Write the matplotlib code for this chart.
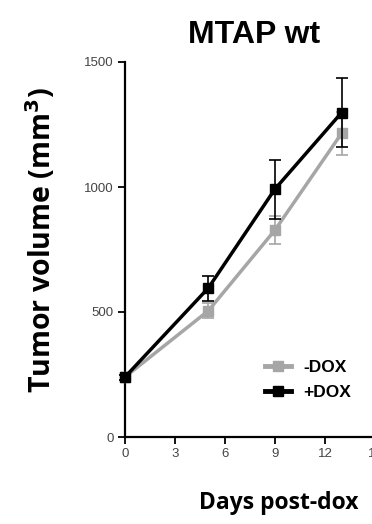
import matplotlib.pyplot as plt
from matplotlib.lines import Line2D

days = [0, 5, 9, 13]
minus_dox = [240, 505, 828, 1215]
minus_err = [10, 30, 55, 85]
plus_dox = [240, 596, 992, 1298]
plus_err = [10, 50, 118, 138]

x_ticks = [0, 3, 6, 9, 12, 15]
y_ticks = [0, 500, 1000, 1500]

fig = plt.figure(figsize=(3.72, 5.24), dpi=100)
ax = fig.add_axes([125 / 372, 87 / 524, 250 / 372, 375 / 524])

ax.errorbar(days, minus_dox, yerr=minus_err, color='#a6a6a6', lw=2.5,
            marker='s', ms=6.5, capsize=4, elinewidth=1.2, capthick=1.2,
            clip_on=False, zorder=3)
ax.errorbar(days, plus_dox, yerr=plus_err, color='black', lw=2.5,
            marker='s', ms=6.5, capsize=4, elinewidth=1.2, capthick=1.2,
            clip_on=False, zorder=4)

ax.set_xlim(0, 15)
ax.set_ylim(0, 1500)
ax.set_xticks(x_ticks)
ax.set_yticks(y_ticks)
ax.tick_params(labelsize=9.5, labelcolor='#444444', length=5, width=1.3,
               direction='out', pad=3)
for lab in ax.get_xticklabels() + ax.get_yticklabels():
    lab.set_family('Liberation Sans')
ax.spines['top'].set_visible(False)
ax.spines['right'].set_visible(False)
ax.spines['left'].set_linewidth(1.6)
ax.spines['bottom'].set_linewidth(1.6)

# legend handles without error bars
handles = [Line2D([], [], color='#a6a6a6', lw=3.5, marker='s', ms=6.5),
           Line2D([], [], color='black', lw=3.5, marker='s', ms=6.5)]
ax.legend(handles, ['-DOX', '+DOX'], loc='lower right',
          bbox_to_anchor=(0.94, 0.075), frameon=False, borderpad=0,
          handlelength=1.5, handletextpad=0.7, labelspacing=0.6,
          prop={'family': 'Liberation Sans', 'weight': 'bold', 'size': 12.5})

fig.text(0.683, 0.933, 'MTAP wt', ha='center', va='center', fontsize=23,
         fontweight='bold', family='Liberation Sans')
fig.text(0.11, 0.542, 'Tumor volume (mm$^\\mathbf{3}$)', ha='center', va='center',
         rotation=90, fontsize=20.5, fontweight='bold', family='Open Sans')
fig.text(0.748, 0.04, 'Days post-dox', ha='center', va='center', fontsize=16.5,
         fontweight='bold', family='Open Sans')

fig.savefig('out.png', dpi=100)
